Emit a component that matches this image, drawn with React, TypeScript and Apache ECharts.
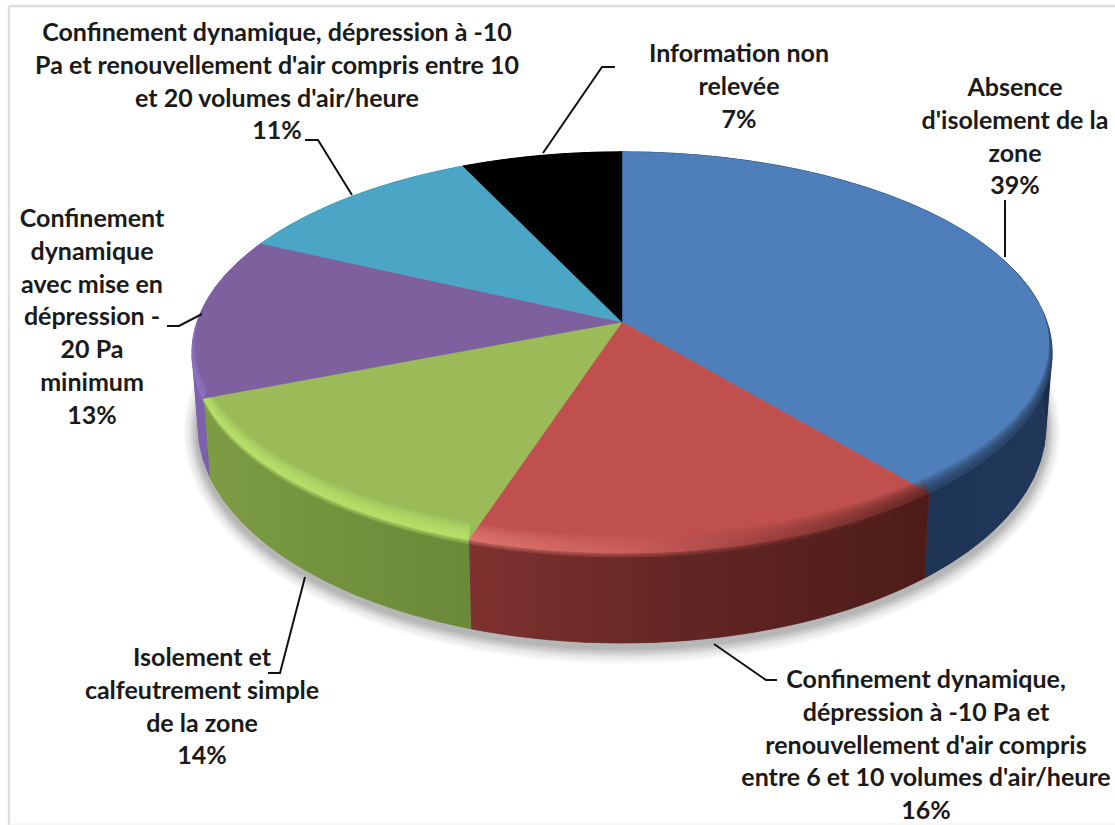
import React, { useEffect, useRef } from "react";
import * as echarts from "echarts";

const categories = [
  "Absence\nd'isolement de la\nzone",
  "Confinement dynamique,\ndépression à -10 Pa et\nrenouvellement d'air compris\nentre 6 et 10 volumes d'air/heure",
  "Isolement et\ncalfeutrement simple\nde la zone",
  "Confinement\ndynamique\navec mise en\ndépression -\n20 Pa\nminimum",
  "Confinement dynamique, dépression à -10\nPa et renouvellement d'air compris entre 10\net 20 volumes d'air/heure",
  "Information non\nrelevée",
];
const values = [39, 16, 14, 13, 11, 7];

const faceColors = ["#4f7fba", "#bf504d", "#9bbb59", "#7f609e", "#4aa6c4", "#000000"];
const wallStops: [number, string][][] = [
  [[0, "#1c2f4c"], [1, "#20375a"]],
  [[0, "#7f3230"], [0.45, "#642624"], [1, "#4c1c19"]],
  [[0, "#7d9c44"], [0.5, "#72923e"], [1, "#6a8a3a"]],
  [[0, "#7d61ad"], [1, "#7d61ad"]],
  [[0, "#3a8aa0"], [1, "#3a8aa0"]],
  [[0, "#000000"], [1, "#000000"]],
];
const rimStops: ([number, string][] | null)[] = [
  [[0, "#1f3350"], [1, "#1f3350"]],
  [[0, "#e37d77"], [0.35, "#cf625e"], [0.62, "#99403d"], [1, "#4a1a18"]],
  [[0, "#bde96c"], [1, "#bde96c"]],
  [[0, "#9078c8"], [1, "#9078c8"]],
  null,
  null,
];

// placement of labels and leader lines
const labelBoxes = [
  { x: 1015, y: 70 },
  { x: 926, y: 662 },
  { x: 202, y: 640 },
  { x: 92, y: 201 },
  { x: 277, y: 15 },
  { x: 739, y: 36 },
];
const leaders = [
  [[1005, 200], [1005, 257]],
  [[714, 644], [766, 680], [777, 680]],
  [[305, 577], [280, 673], [268, 673]],
  [[167, 326], [179, 326], [202, 314]],
  [[305, 140], [318, 140], [352, 195]],
  [[615, 67], [602, 67], [543, 153]],
];

const CX = 622, CY = 322, A = 425, B = 196, K = -0.152;
const CY2 = 393, A2 = 419, B2 = 212;
const LINE = 32.7;
const total = values.reduce((s, v) => s + v, 0);
const rimLayers = [1, 0.9, 0.8, 0.7, 0.6, 0.5, 0.4, 0.3, 0.2, 0.1];
const shadowLayers = [14, 12, 10, 8, 7, 6, 5, 4, 3, 2];

const top = (t: number): number[] => {
  const sx = Math.sin(t), sy = -Math.cos(t), d = 1 + K * sy;
  return [CX + (A * sx) / d, CY + (B * sy) / d];
};
const bottom = (t: number): number[] => {
  const sx = Math.sin(t), sy = -Math.cos(t), d = 1 + K * sy;
  return [CX + (A2 * sx) / d, CY2 + (B2 * sy) / d];
};
const inner = (t: number, u: number): number[] => {
  const p = top(t);
  const f = Math.max(0, Math.min(1, (0.35 - Math.cos(t)) / 1.35));
  return [p[0] - 9 * Math.sin(t) * f * u, p[1] - 18 * f * u];
};
const sweep = (a0: number, a1: number, fn: (t: number) => number[]): number[][] => {
  const n = Math.max(2, Math.ceil(((a1 - a0) * 180) / Math.PI));
  const out: number[][] = [];
  for (let i = 0; i <= n; i++) out.push(fn(a0 + ((a1 - a0) * i) / n));
  return out;
};
const range = (i: number): number[] => {
  let s = 0;
  for (let j = 0; j < i; j++) s += values[j];
  return [(s / total) * 2 * Math.PI, ((s + values[i]) / total) * 2 * Math.PI];
};
const grad = (stops: [number, string][]) =>
  new echarts.graphic.LinearGradient(0, 0, 1, 0, stops.map(([offset, color]) => ({ offset, color })));

export default function App() {
  const ref = useRef<HTMLDivElement>(null);
  useEffect(() => {
    if (!ref.current) return;
    const chart = echarts.init(ref.current, null, { renderer: "svg" });
    chart.setOption({
      animation: false,
      backgroundColor: "#ffffff",
      graphic: [
        { type: "line", z: 0, shape: { x1: 9, y1: 6, x2: 1115, y2: 6 }, style: { stroke: "#dedede", lineWidth: 2.5 } },
        { type: "line", z: 0, shape: { x1: 9, y1: 6, x2: 9, y2: 825 }, style: { stroke: "#dedede", lineWidth: 2.5 } },
        { type: "line", z: 0, shape: { x1: 9, y1: 824, x2: 1115, y2: 824 }, style: { stroke: "#f0f0f0", lineWidth: 1 } },
      ],
      series: [
        {
          type: "custom",
          name: "ombre",
          coordinateSystem: "none",
          silent: true,
          z: 1,
          data: [total],
          renderItem: () => ({
            type: "group",
            children: shadowLayers.map((o) => ({
              type: "polygon",
              shape: {
                points: sweep(0, 2 * Math.PI, (t) => {
                  const sx = Math.sin(t), sy = -Math.cos(t), d = 1 + K * sy;
                  return [CX + ((A2 + o) * sx) / d, CY2 + 4 + ((B2 + o) * sy) / d];
                }),
              },
              style: { fill: "#000000", opacity: 0.032 },
            })),
          }),
        },
        {
          type: "custom",
          name: "côtés",
          coordinateSystem: "none",
          silent: true,
          z: 2,
          data: values,
          renderItem: (params: any) => {
            const i = params.dataIndex;
            const [a0, a1] = range(i);
            const children: any[] = [];
            const step = (4 * Math.PI) / 180;
            for (let t = a0; t < a1; t += step) {
              const e = Math.min(t + step, a1);
              const c = wallStops[i][0][1];
              children.push({
                type: "polygon",
                shape: { points: [top(t), top(e), bottom(e), bottom(t)] },
                style: { fill: c, stroke: c, lineWidth: 0.5 },
              });
            }
            const fill = grad(wallStops[i]);
            const pts = sweep(a0, a1, top).concat(sweep(a0, a1, bottom).reverse());
            children.push({ type: "polygon", shape: { points: pts }, style: { fill, stroke: fill, lineWidth: 0.5 } });
            return { type: "group", children };
          },
        },
        {
          type: "custom",
          name: "dessus",
          coordinateSystem: "none",
          silent: true,
          z: 3,
          data: values,
          renderItem: (params: any) => {
            const i = params.dataIndex;
            const [a0, a1] = range(i);
            const children: any[] = [
              {
                type: "polygon",
                shape: { points: [[CX, CY], ...sweep(a0, a1, top)] },
                style: { fill: faceColors[i], stroke: faceColors[i], lineWidth: 0.5 },
              },
            ];
            const stops = rimStops[i];
            if (stops) {
              rimLayers.forEach((u) => {
                const pts = sweep(a0, a1, top).concat(sweep(a0, a1, (t) => inner(t, u)).reverse());
                children.push({ type: "polygon", shape: { points: pts }, style: { fill: grad(stops), opacity: 0.14 } });
              });
              [-0.08, -0.16, -0.24].forEach((u) => {
                const pts = sweep(a0, a1, top).concat(sweep(a0, a1, (t) => inner(t, u)).reverse());
                children.push({ type: "polygon", shape: { points: pts }, style: { fill: grad(stops), opacity: 0.24 } });
              });
            }
            return { type: "group", children };
          },
        },
        {
          type: "custom",
          name: "étiquettes",
          coordinateSystem: "none",
          silent: true,
          z: 4,
          data: values,
          renderItem: (params: any, api: any) => {
            const i = params.dataIndex;
            const pct = `${Math.round((api.value(0) / total) * 100)}%`;
            return {
              type: "group",
              children: [
                {
                  type: "polyline",
                  shape: { points: leaders[i] },
                  style: { stroke: "#111111", lineWidth: 2, fill: "none" },
                },
                {
                  type: "text",
                  x: labelBoxes[i].x,
                  y: labelBoxes[i].y,
                  style: {
                    text: `${categories[i]}\n${pct}`,
                    fill: "#1a1a1a",
                    font: "bold 25px Lato",
                    lineHeight: LINE,
                    align: "center",
                    verticalAlign: "top",
                  },
                },
              ],
            };
          },
        },
      ],
    });
    return () => chart.dispose();
  }, []);
  return <div ref={ref} style={{ position: "absolute", left: 0, top: 0, width: 1115, height: 825 }} />;
}
